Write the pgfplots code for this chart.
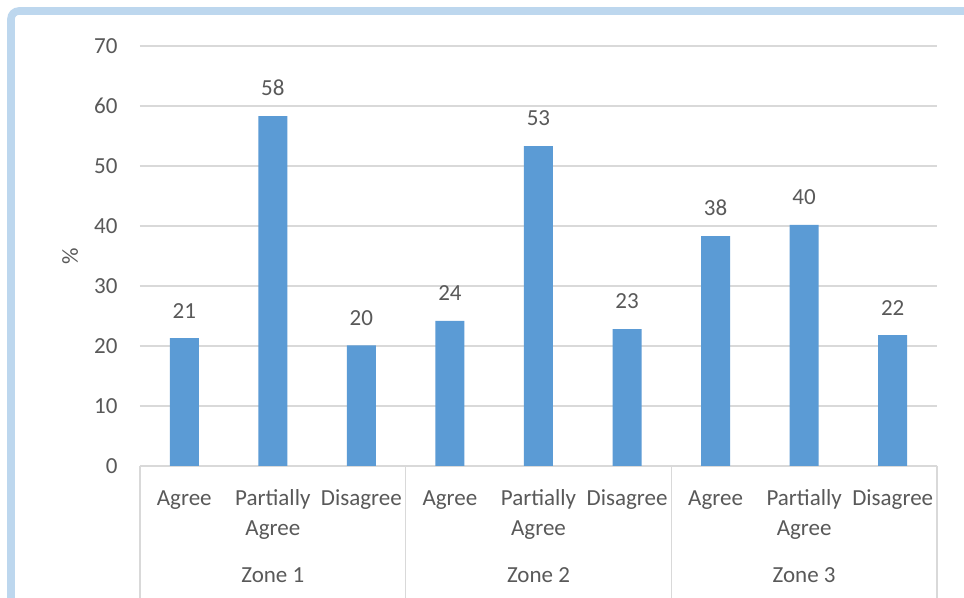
\documentclass[border=0pt]{standalone}
\usepackage{pgfplots}
\pgfplotsset{compat=1.18}
\usepackage{fontspec}
\setmainfont{Carlito}
\definecolor{barblue}{HTML}{5B9BD5}
\definecolor{txt}{HTML}{595959}
\definecolor{gridc}{HTML}{D9D9D9}
\definecolor{framec}{HTML}{BDD7EE}
\begin{document}
\begin{tikzpicture}
\useasboundingbox (-70pt,-66pt) rectangle (412pt,233pt);
\fill[white] (-70pt,-66pt) rectangle (412pt,233pt);
\draw[framec, line width=3.8pt, rounded corners=4pt] (-64.5pt,-75pt) -- (-64.5pt,227.5pt) -- (425pt,227.5pt);
\begin{axis}[
  at={(0,0)}, anchor=south west,
  scale only axis, width=398.5pt, height=210pt,
  ymin=0, ymax=70, ytick={0,10,...,70},
  xmin=-0.5, xmax=8.5,
  xtick={0,...,8},
  xticklabels={\strut Agree,\strut Partially\\Agree,\strut Disagree,\strut Agree,\strut Partially\\Agree,\strut Disagree,\strut Agree,\strut Partially\\Agree,\strut Disagree},
  major tick length=0pt,
  axis line style={draw=none},
  ymajorgrids, major grid style={gridc, line width=0.8pt},
  /pgf/number format/assume math mode=true,
  tick label style={font=\fontsize{11.5}{15}\selectfont, text=txt},
  xticklabel style={align=center, anchor=north, yshift=-5.9pt},
  yticklabel style={anchor=east, xshift=-7.7pt},
  ylabel={\%},
  every axis y label/.style={at={(axis description cs:-0.0878,0.5)}, rotate=90, anchor=center, font=\fontsize{11.5}{15}\selectfont, text=txt},
  ybar, bar width=14.5pt,
  nodes near coords={\pgfmathprintnumber[fixed,precision=0,assume math mode=true]{\pgfplotspointmeta}},
  nodes near coords style={font=\fontsize{11.5}{15}\selectfont, text=txt, yshift=6.5pt},
  clip=false,
]
\addplot[fill=barblue, draw=none] coordinates {
  (0,21.3) (1,58.3) (2,20.1) (3,24.2) (4,53.3) (5,22.8) (6,38.3) (7,40.2) (8,21.8)
};
\draw[gridc, line width=0.8pt] (axis cs:-0.5,0) -- ([yshift=-70pt]axis cs:-0.5,0);
\draw[gridc, line width=0.8pt] (axis cs:2.5,0) -- ([yshift=-70pt]axis cs:2.5,0);
\draw[gridc, line width=0.8pt] (axis cs:5.5,0) -- ([yshift=-70pt]axis cs:5.5,0);
\draw[gridc, line width=0.8pt] (axis cs:8.5,0) -- ([yshift=-70pt]axis cs:8.5,0);
\node[font=\fontsize{11.5}{15}\selectfont, text=txt] at ([yshift=-54.5pt]axis cs:1,0) {Zone 1};
\node[font=\fontsize{11.5}{15}\selectfont, text=txt] at ([yshift=-54.5pt]axis cs:4,0) {Zone 2};
\node[font=\fontsize{11.5}{15}\selectfont, text=txt] at ([yshift=-54.5pt]axis cs:7,0) {Zone 3};
\end{axis}
\end{tikzpicture}
\end{document}
